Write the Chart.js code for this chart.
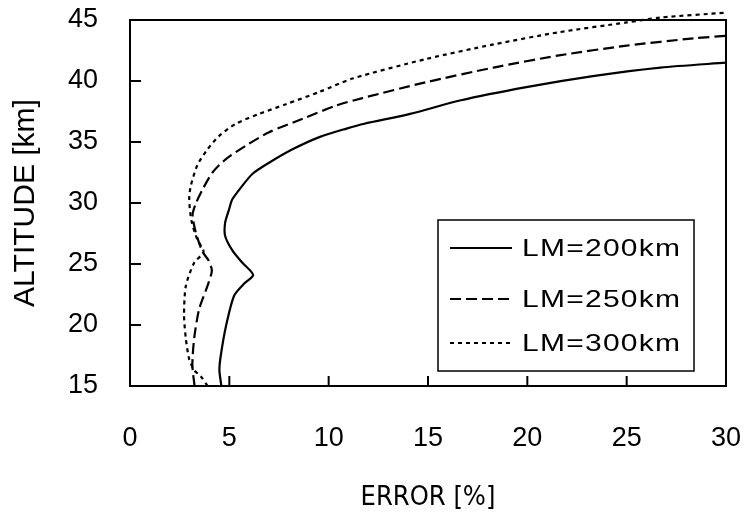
<!DOCTYPE html>
<html>
<head>
<meta charset="utf-8">
<script src="https://cdn.jsdelivr.net/npm/chart.js@4.4.1/dist/chart.umd.min.js"></script>
<style>
  html, body { margin: 0; padding: 0; background: #fff; }
</style>
</head>
<body>
<canvas id="chart" width="745" height="518"></canvas>
<script>
// error [%] vs altitude [km], bottom to top
const err200 = [4.6, 4.5, 4.57, 4.83, 5.24, 5.75, 6.2, 5.66, 5.16, 4.79, 4.79, 4.99, 5.15, 5.6, 6.17, 7.0, 8.18, 9.53, 10.9, 11.8, 14.1, 16.6, 19.95, 23.3, 26.7, 30];
const alt200 = [15.0, 16.3, 17.5, 19.9, 22.4, 23.4, 24.1, 25.1, 26.1, 27.3, 28.4, 29.5, 30.3, 31.3, 32.4, 33.3, 34.4, 35.4, 36.1, 36.5, 37.3, 38.4, 39.5, 40.4, 41.1, 41.5];

const err250 = [3.25, 3.14, 3.23, 3.48, 3.9, 4.12, 3.95, 3.65, 3.31, 3.15, 3.3, 3.65, 4.15, 4.83, 5.83, 7.0, 8.69, 10.4, 11.7, 14.9, 18.3, 21.6, 25.0, 28.4, 30];
const alt250 = [15.0, 16.7, 18.9, 21.3, 23.2, 24.45, 25.3, 26.0, 27.6, 29.0, 29.9, 31.1, 32.5, 33.6, 34.7, 35.8, 36.9, 38.0, 38.6, 39.9, 41.1, 42.1, 42.9, 43.5, 43.7];

const err300 = [3.9, 3.56, 3.23, 2.98, 2.81, 2.72, 2.81, 3.23, 3.7, 3.39, 3.1, 2.98, 3.06, 3.39, 3.9, 4.49, 5.33, 6.5, 7.85, 9.53, 11.2, 14.9, 18.3, 21.6, 25.0, 26.7, 30];
const alt300 = [15.0, 15.8, 16.3, 17.2, 18.9, 20.8, 23.2, 25.1, 26.0, 27.0, 28.5, 30.3, 31.4, 33.1, 34.4, 35.5, 36.5, 37.3, 38.1, 39.1, 40.2, 41.8, 43.0, 44.0, 44.8, 45.2, 45.6];

const seriesNames = ['LM=200km', 'LM=250km', 'LM=300km'];
const xTicks = [0, 5, 10, 15, 20, 25, 30];
const yTicks = [15, 20, 25, 30, 35, 40, 45];

const toPoints = (xs, ys) => xs.map((x, i) => ({ x: x, y: ys[i] }));

// box around the plot plus short tick marks pointing inwards
const framePlugin = {
  id: 'frame',
  afterDatasetsDraw(chart) {
    const { ctx, chartArea: a, scales } = chart;
    ctx.save();
    ctx.strokeStyle = '#000';
    ctx.lineWidth = 2;
    ctx.strokeRect(a.left, a.top, a.right - a.left, a.bottom - a.top);
    ctx.beginPath();
    xTicks.slice(1, -1).forEach(v => {
      const px = scales.x.getPixelForValue(v);
      ctx.moveTo(px, a.bottom);
      ctx.lineTo(px, a.bottom - 10);
    });
    yTicks.slice(1, -1).forEach(v => {
      const py = scales.y.getPixelForValue(v);
      ctx.moveTo(a.left, py);
      ctx.lineTo(a.left + 11, py);
    });
    ctx.stroke();
    ctx.restore();
  }
};

// legend box in the lower right corner of the plot
const boxLegend = {
  id: 'boxLegend',
  afterDraw(chart) {
    const { ctx, chartArea: a } = chart;
    const w = 256, h = 151;
    const left = a.right - 32 - w;
    const top = a.bottom - 15 - h;
    const rows = [28, 79, 123];
    ctx.save();
    ctx.fillStyle = '#fff';
    ctx.fillRect(left, top, w, h);
    ctx.strokeStyle = '#000';
    ctx.lineWidth = 1.5;
    ctx.strokeRect(left, top, w, h);
    chart.data.datasets.forEach((ds, i) => {
      const y = top + rows[i];
      ctx.beginPath();
      ctx.lineWidth = 2;
      ctx.setLineDash(ds.borderDash || []);
      ctx.moveTo(left + 12, y);
      ctx.lineTo(left + 74, y);
      ctx.stroke();
      ctx.setLineDash([]);
      ctx.save();
      ctx.translate(left + 84, y);
      ctx.scale(1.25, 1);
      ctx.font = '24px "Liberation Sans", Arial, sans-serif';
      ctx.letterSpacing = '1px';
      ctx.fillStyle = '#000';
      ctx.textBaseline = 'middle';
      ctx.fillText(ds.label, 0, 1);
      ctx.restore();
    });
    ctx.restore();
  }
};

const ctx = document.getElementById('chart').getContext('2d');
new Chart(ctx, {
  type: 'line',
  data: {
    datasets: [{
      label: seriesNames[0],
      data: toPoints(err200, alt200),
      borderColor: '#000',
      borderWidth: 2.2,
      borderDash: []
    }, {
      label: seriesNames[1],
      data: toPoints(err250, alt250),
      borderColor: '#000',
      borderWidth: 2.2,
      borderDash: [11, 5]
    }, {
      label: seriesNames[2],
      data: toPoints(err300, alt300),
      borderColor: '#000',
      borderWidth: 2.2,
      borderDash: [4, 4],
      clip: { left: 0, top: 12, right: 2, bottom: 0 }
    }]
  },
  options: {
    responsive: false,
    animation: false,
    events: [],
    layout: { padding: { top: 20, right: 19, left: 0, bottom: 0 } },
    elements: {
      point: { radius: 0 },
      line: { tension: 0.25, fill: false }
    },
    plugins: {
      legend: { display: false },
      tooltip: { enabled: false }
    },
    scales: {
      x: {
        type: 'linear',
        min: 0,
        max: 30,
        afterBuildTicks: s => { s.ticks = xTicks.map(v => ({ value: v })); },
        afterFit: s => {
          s.height = 132;
          s.paddingLeft = 0;
          s.paddingRight = 0;
        },
        grid: { display: false, drawTicks: false },
        border: { display: false },
        ticks: {
          padding: 36,
          color: '#000',
          maxRotation: 0,
          font: { family: '"Liberation Sans", Arial, sans-serif', size: 27 }
        },
        title: {
          display: true,
          text: 'ERROR [%]',
          color: '#000',
          padding: { top: 0, bottom: 4 },
          font: { family: '"Liberation Sans Narrow", "DejaVu Sans Condensed", "Liberation Sans", Arial, sans-serif', size: 27 }
        }
      },
      y: {
        type: 'linear',
        min: 15,
        max: 45,
        afterBuildTicks: s => { s.ticks = yTicks.map(v => ({ value: v })); },
        afterFit: s => {
          s.width = 130;
          s.paddingTop = 0;
          s.paddingBottom = 0;
        },
        grid: { display: false, drawTicks: false },
        border: { display: false },
        ticks: {
          padding: 32,
          color: '#000',
          font: { family: '"Liberation Sans", Arial, sans-serif', size: 27 }
        },
        title: {
          display: true,
          text: 'ALTITUDE [km]',
          color: '#000',
          padding: { top: 8, bottom: 0 },
          font: { family: '"Liberation Sans", Arial, sans-serif', size: 30 }
        }
      }
    }
  },
  plugins: [framePlugin, boxLegend]
});
</script>
</body>
</html>
